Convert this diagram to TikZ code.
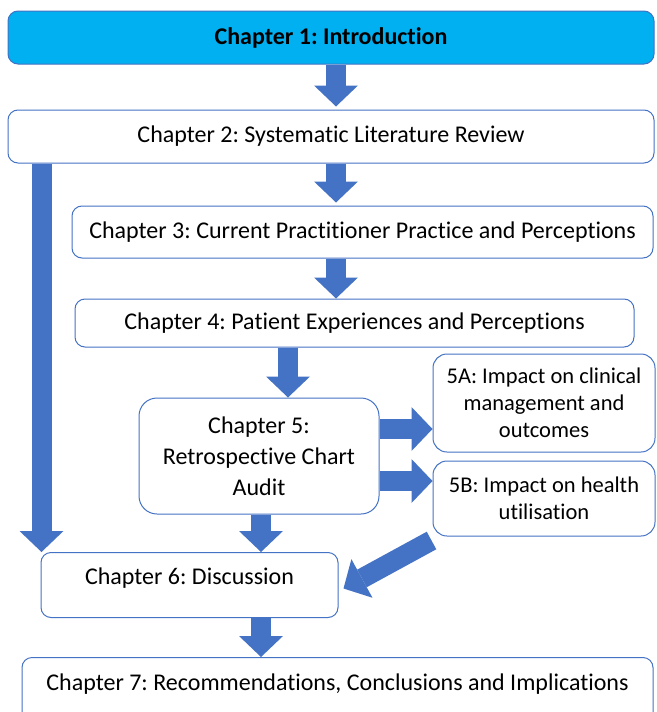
\documentclass[tikz,border=0pt]{standalone}
\usepackage{fontspec}
\setmainfont{Carlito}[Ligatures=NoCommon]
\frenchspacing
\usetikzlibrary{arrows.meta,calc}
\definecolor{boxedge}{HTML}{4472C4}
\definecolor{flowblue}{HTML}{4472C4}
\definecolor{titlefill}{HTML}{00B0F0}
\begin{document}
\begin{tikzpicture}[x=1pt,y=-1pt,
  chap/.style={draw=boxedge, line width=1pt, rounded corners=10pt, fill=white,
    align=center, inner sep=0pt, font=\fontsize{24}{28}\selectfont},
  sub/.style={chap, rounded corners=14pt, font=\fontsize{22.5}{27}\selectfont},
  flow/.style={draw=flowblue, line width=20pt,
    -{Triangle[width=44pt,length=21pt,line width=0pt]}}]
\useasboundingbox (0,0) rectangle (656,712);

% chapter boxes
\node[chap, fill=titlefill, minimum width=646pt, minimum height=53pt,
      font=\bfseries\fontsize{24}{28}\selectfont] (b1) at (331,37.5) {Chapter 1: Introduction};
\node[chap, minimum width=646pt, minimum height=53pt] (b2) at (331,136.5)
  {Chapter 2: Systematic Literature Review};
\node[chap, minimum width=581pt, minimum height=52pt] (b3) at (362.5,232)
  {Chapter 3: Current Practitioner Practice and Perceptions};
\node[chap, minimum width=559pt, minimum height=48pt] (b4) at (354.5,323)
  {Chapter 4: Patient Experiences and Perceptions};
\node[chap, rounded corners=18pt, minimum width=240pt, minimum height=116pt,
      font=\fontsize{24}{31}\selectfont] (b5) at (259,456)
  {Chapter 5:\\Retrospective Chart\\Audit};
\node[sub, minimum width=222pt, minimum height=98pt] (b5a) at (544,403)
  {5A: Impact on clinical\\management and\\outcomes};
\node[sub, minimum width=222pt, minimum height=75pt] (b5b) at (544,498.5)
  {5B: Impact on health\\utilisation};
\node[chap, minimum width=297pt, text height=32pt, text depth=33pt, anchor=north]
  (b6) at (189.5,552) {Chapter 6: Discussion};
\node[chap, minimum width=631pt, text height=33pt, text depth=50pt, anchor=north]
  (b7) at (337.5,657) {Chapter 7: Recommendations, Conclusions and Implications};

% guide lines for the arrows
\coordinate (spine) at (336,0);
\coordinate (left) at (41.5,0);
\coordinate (col5) at (288,0);
\coordinate (col6) at (261,0);
\coordinate (rowa) at (0,429);
\coordinate (rowb) at (0,481);

% block arrows
\draw[flow, shorten >=3pt] (b1.south -| spine) -- (b2.north -| spine);
\draw[flow, shorten >=3pt] (b2.south -| spine) -- (b3.north -| spine);
\draw[flow] (b3.south -| spine) -- (b4.north -| spine);
\draw[flow] (b4.south -| col5) -- (b5.north -| col5);
\draw[flow] (b5.east |- rowa) -- (b5a.west |- rowa);
\draw[flow] (b5.east |- rowb) -- (b5b.west |- rowb);
\draw[flow] (b5.south -| col6) -- (b6.north -| col6);
\draw[flow] (b2.south -| left) -- (b6.north -| left);
\draw[flow] ([xshift=-1pt,yshift=-4pt]b5b.south west) -- ([xshift=5pt,yshift=-3.5pt]b6.east);
\draw[flow] (b6.south -| col6) -- (b7.north -| col6);
\end{tikzpicture}
\end{document}
